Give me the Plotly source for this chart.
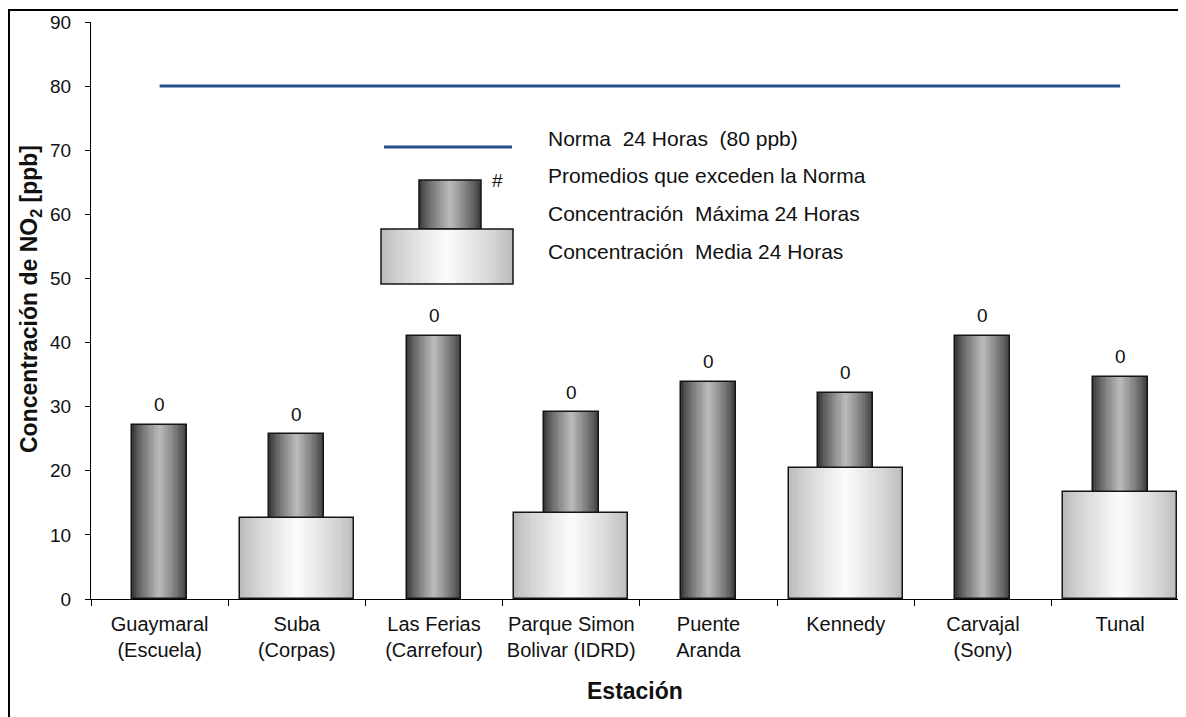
import plotly.graph_objects as go

# Datos
estaciones = ["Guaymaral<br>(Escuela)", "Suba<br>(Corpas)", "Las Ferias<br>(Carrefour)",
              "Parque Simon<br>Bolivar (IDRD)", "Puente<br>Aranda", "Kennedy",
              "Carvajal<br>(Sony)", "Tunal"]
maxima = [27.2, 25.7, 41.1, 29.1, 33.9, 32.2, 41.1, 34.7]
media = [None, 12.6, None, 13.4, None, 20.4, None, 16.7]
excedencias = [0, 0, 0, 0, 0, 0, 0, 0]
norma = 80

legend_texts = ["Norma  24 Horas  (80 ppb)", "Promedios que exceden la Norma",
                "Concentración  Máxima 24 Horas", "Concentración  Media 24 Horas"]

# pixel layout of the screenshot (page body adds an 8px margin)
W, H, OFF = 1186, 717, 8
L, TOP, BOT = 91, 22, 599
pw, ph = W - L, BOT - TOP
FONT = "Liberation Sans, Arial, sans-serif"
TXT = "#111111"

DARK_EDGE, DARK_CENTER = (58, 58, 58), (184, 184, 184)
LIGHT_EDGE, LIGHT_CENTER = (188, 188, 188), (250, 250, 250)


def px(x):
    return (x - L) / pw


def py(y):
    return (BOT - y) / ph


def blend(c1, c2, t):
    return '#%02x%02x%02x' % tuple(round(a + (b - a) * t) for a, b in zip(c1, c2))


def gradient_bars(fig, values, width, edge, center, n=16):
    # stacked narrower bars fake a cylinder-like horizontal gradient
    for k in range(n):
        t = (k / (n - 1)) ** 0.8
        fig.add_trace(go.Bar(x=estaciones, y=values, width=width * (1 - k / n),
                             marker=dict(color=blend(edge, center, t), line=dict(width=0)),
                             hoverinfo='skip', showlegend=False))
    fig.add_trace(go.Bar(x=estaciones, y=values, width=width,
                         marker=dict(color='rgba(0,0,0,0)', line=dict(color='#151515', width=1.5)),
                         hoverinfo='skip', showlegend=False))


def gradient_rect(shapes, x0, x1, y0, y1, edge, center, n=16):
    cx, hw = (x0 + x1) / 2, (x1 - x0) / 2
    for k in range(n):
        t = (k / (n - 1)) ** 0.8
        w = hw * (1 - k / n)
        shapes.append(dict(type='rect', xref='paper', yref='paper',
                           x0=px(cx - w), x1=px(cx + w), y0=py(y1), y1=py(y0),
                           fillcolor=blend(edge, center, t), line=dict(width=0)))
    shapes.append(dict(type='rect', xref='paper', yref='paper',
                       x0=px(x0), x1=px(x1), y0=py(y1), y1=py(y0),
                       line=dict(color='#151515', width=1.5)))


fig = go.Figure()
gradient_bars(fig, maxima, 0.40, DARK_EDGE, DARK_CENTER)
gradient_bars(fig, media, 0.83, LIGHT_EDGE, LIGHT_CENTER)

fig.add_trace(go.Scatter(x=estaciones, y=[norma] * len(estaciones), mode='lines',
                         line=dict(color='#24508c', width=3), hoverinfo='skip', showlegend=False))

annotations = []
for est, v, e in zip(estaciones, maxima, excedencias):
    annotations.append(dict(x=est, y=v, text=str(e), showarrow=False, yshift=20,
                            xanchor='center', yanchor='middle', font=dict(size=19, color=TXT)))

# leyenda dibujada a mano
shapes = []
shapes.append(dict(type='line', xref='paper', yref='paper', x0=px(384), x1=px(512),
                   y0=py(147), y1=py(147), line=dict(color='#24508c', width=3)))
gradient_rect(shapes, 419, 481, 180, 229, DARK_EDGE, DARK_CENTER)
gradient_rect(shapes, 381, 513, 229, 284, LIGHT_EDGE, LIGHT_CENTER)
annotations.append(dict(x=px(497), y=py(180), xref='paper', yref='paper', text='#',
                        xanchor='center', yanchor='middle', showarrow=False,
                        font=dict(size=19, color=TXT)))
for txt, yc in zip(legend_texts, [139, 175, 213, 251]):
    annotations.append(dict(x=px(546), y=py(yc), xref='paper', yref='paper', text=txt,
                            xanchor='left', yanchor='middle', showarrow=False,
                            font=dict(size=21, color=TXT)))

# titulos de ejes
annotations.append(dict(x=px(31), y=py(299), xref='paper', yref='paper',
                        text='Concentración de NO<sub>2</sub> [ppb]', textangle=-90,
                        xanchor='center', yanchor='middle', showarrow=False,
                        font=dict(size=23, color=TXT, weight='bold')))
annotations.append(dict(x=px(635), y=py(691), xref='paper', yref='paper', text='Estación',
                        xanchor='center', yanchor='middle', showarrow=False,
                        font=dict(size=23, color=TXT, weight='bold')))

# marco exterior
shapes.append(dict(type='rect', xref='paper', yref='paper', x0=px(9), x1=px(1200),
                   y0=py(730), y1=py(10), line=dict(color='black', width=2), layer='below'))

fig.update_layout(
    width=W - OFF, height=H - OFF, barmode='overlay', bargap=0,
    margin=dict(l=L - OFF, r=0, t=TOP - OFF, b=H - BOT),
    paper_bgcolor='white', plot_bgcolor='white',
    font=dict(family=FONT, color=TXT),
    shapes=shapes, annotations=annotations,
    xaxis=dict(type='category', range=[-0.5, 7.48], showline=True, linecolor='black',
               linewidth=1, ticks='outside', tickson='boundaries', ticklen=6,
               tickcolor='black', tickfont=dict(size=20), tickangle=0, showgrid=False,
               fixedrange=True, ticklabelstandoff=7),
    yaxis=dict(range=[0, 90], dtick=10, showline=True, linecolor='black', linewidth=1,
               ticks='outside', ticklen=5, tickcolor='black', tickfont=dict(size=19),
               showgrid=False, zeroline=False, ticklabelstandoff=10, fixedrange=True),
)

fig.write_html("out.html")
